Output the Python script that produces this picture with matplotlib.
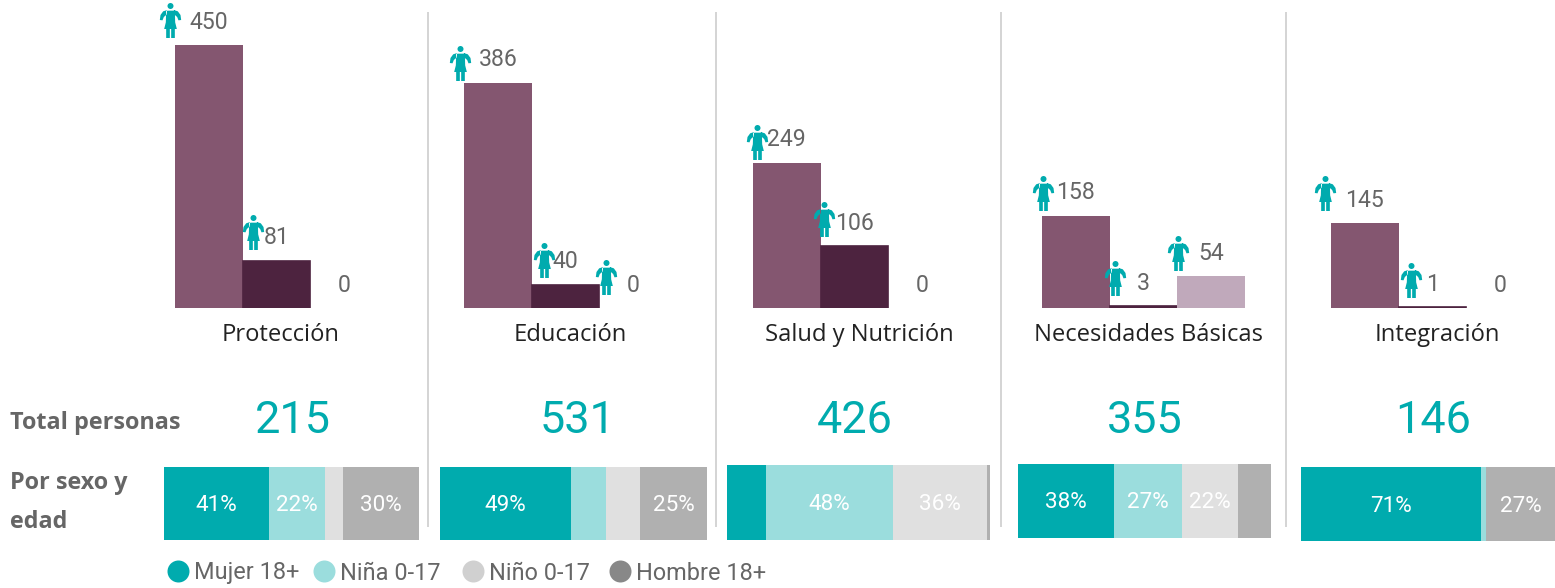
import numpy as np
import matplotlib
matplotlib.use('Agg')
import matplotlib.pyplot as plt
from matplotlib.path import Path
from matplotlib.transforms import ScaledTranslation

W, H = 1555, 588

categories = ['Protección', 'Educación', 'Salud y Nutrición', 'Necesidades Básicas', 'Integración']
bar_values = [[450, 81, 0], [386, 40, 0], [249, 106, 0], [158, 3, 54], [145, 1, 0]]
totals = [215, 531, 426, 355, 146]
groups = ['Mujer 18+', 'Niña 0-17', 'Niño 0-17', 'Hombre 18+']
mujer = [41, 49, 15, 38, 71]
nina = [22, 13, 48, 27, 2]
nino = [7, 13, 36, 22, 0]
hombre = [30, 25, 1, 13, 27]

# layout in pixels of the reference
bar_left = [175, 464, 753, 1042, 1331]
stack_box = [(164, 419, 467, 540), (440, 707, 467, 540), (727, 990, 465, 540),
             (1018, 1271, 464, 538), (1301, 1555, 467, 541)]
cat_x = [281, 570, 859, 1148, 1437]
total_x = [293, 578, 855, 1145, 1433]
dividers = [428, 716, 1001, 1286]
legend_x = [178, 324, 473, 620]
# icon offset from the top centre of each bar, None = no icon
icon_off = [[(-39, -25), (-23, -29), None],
            [(-38, -20), (-21, -25), (-27, -31)],
            [(-30, -21), (-30, -27), None],
            [(-33, -23), (-28, -28), (-33, -23)],
            [(-40, -30), (-21, -27), None]]

bar_colors = ['#845670', '#4d233f', '#c0a9bb']
bar_edges = [0, 1.2, 0]
stack_colors = ['#00abae', '#9bdddd', '#e0e0e0', '#b0b0b0']
legend_colors = ['#00abae', '#9bdddd', '#d0d0d0', '#888888']
teal = '#00abae'
grey = '#666666'
NUM = 'Roboto'


def px(v):
    return v * 0.72


def person_marker():
    def pt(x, y):
        return ((x - 60) / 52.5, (64.5 - y) / 52.5)
    polys = [
        # body and skirt
        [(47, 35), (73, 35), (74, 70), (79, 90), (41, 90), (46, 70)],
        # arms
        [(50, 33), (38, 37), (30, 48), (28, 63), (36, 64), (40, 54), (48, 47)],
        [(70, 33), (82, 37), (90, 48), (92, 63), (84, 64), (80, 54), (72, 47)],
        # legs
        [(47, 90), (58, 90), (58, 117), (47, 117)],
        [(62, 90), (73, 90), (73, 117), (62, 117)],
    ]
    paths = [Path.circle(pt(60, 21), 9 / 52.5)]
    for p in polys:
        paths.append(Path([pt(*q) for q in p] + [pt(*p[0])], closed=True))
    return Path.make_compound_path(*paths)


plt.rcParams['font.family'] = ['Open Sans', 'DejaVu Sans']
fig = plt.figure(figsize=(W / 100, H / 100), dpi=100)
fig.patch.set_facecolor('white')

bg = fig.add_axes([0, 0, 1, 1])
bg.set_xlim(0, W)
bg.set_ylim(H, 0)
bg.axis('off')

for x in dividers:
    bg.plot([x, x], [12, 527], color='#d4d4d4', lw=1.4, solid_capstyle='butt')

marker = person_marker()
for i in range(len(categories)):
    # column chart, 308 px high with the baseline at the bottom
    ax = fig.add_axes([bar_left[i] / W, 1 - 308 / H, 202.5 / W, 308 / H])
    ax.set_xlim(-0.5, 2.5)
    ax.set_ylim(0, 308 / 0.584)
    ax.axis('off')
    ax.patch.set_alpha(0)
    ax.bar(range(3), bar_values[i], width=1, color=bar_colors,
           edgecolor=bar_colors, linewidth=bar_edges)
    for j, v in enumerate(bar_values[i]):
        ax.annotate(str(v), (j, v), xytext=(0, px(23)), textcoords='offset points',
                    ha='center', va='center', family=NUM, fontsize=px(23), color=grey,
                    annotation_clip=False)
        if icon_off[i][j] is not None:
            dx, dy = icon_off[i][j]
            tr = ax.transData + ScaledTranslation(dx / 100, -dy / 100, fig.dpi_scale_trans)
            ax.plot([j], [v], marker=marker, ms=px(35), color=teal, mew=0, ls='none',
                    transform=tr, clip_on=False)
    bg.text(cat_x[i], 335, categories[i], ha='center', va='center', fontsize=px(23.8), color='#222222')
    bg.text(total_x[i], 421, str(totals[i]), ha='center', va='center', family=NUM,
            fontsize=px(45), color=teal)

    # share of each group
    x0, x1, y0, y1 = stack_box[i]
    sx = fig.add_axes([x0 / W, 1 - y1 / H, (x1 - x0) / W, (y1 - y0) / H])
    sx.set_xlim(0, 100)
    sx.set_ylim(-0.5, 0.5)
    sx.axis('off')
    left = 0
    for vals, c in zip([mujer, nina, nino, hombre], stack_colors):
        v = vals[i]
        sx.barh(0, v, left=left, height=1, color=c)
        if v >= 20:
            sx.annotate(f'{v}%', (left + v / 2, 0), xytext=(0, -px(2)), textcoords='offset points',
                        ha='center', va='center', family=NUM, fontsize=px(22.5), color='white')
        left += v

bg.text(10, 423, 'Total personas', ha='left', va='center', fontsize=px(23.4),
        fontweight='bold', color=grey)
bg.text(10, 483, 'Por sexo y', ha='left', va='center', fontsize=px(23.4),
        fontweight='bold', color=grey)
bg.text(10, 522, 'edad', ha='left', va='center', fontsize=px(23.4),
        fontweight='bold', color=grey)

for x, c, g in zip(legend_x, legend_colors, groups):
    bg.plot([x], [571], marker='o', ms=px(22), color=c, mew=0, ls='none')
    bg.text(x + 16, 573, g, ha='left', va='center', family=NUM, fontsize=px(23.5), color=grey)

fig.savefig('out.png', dpi=100)
